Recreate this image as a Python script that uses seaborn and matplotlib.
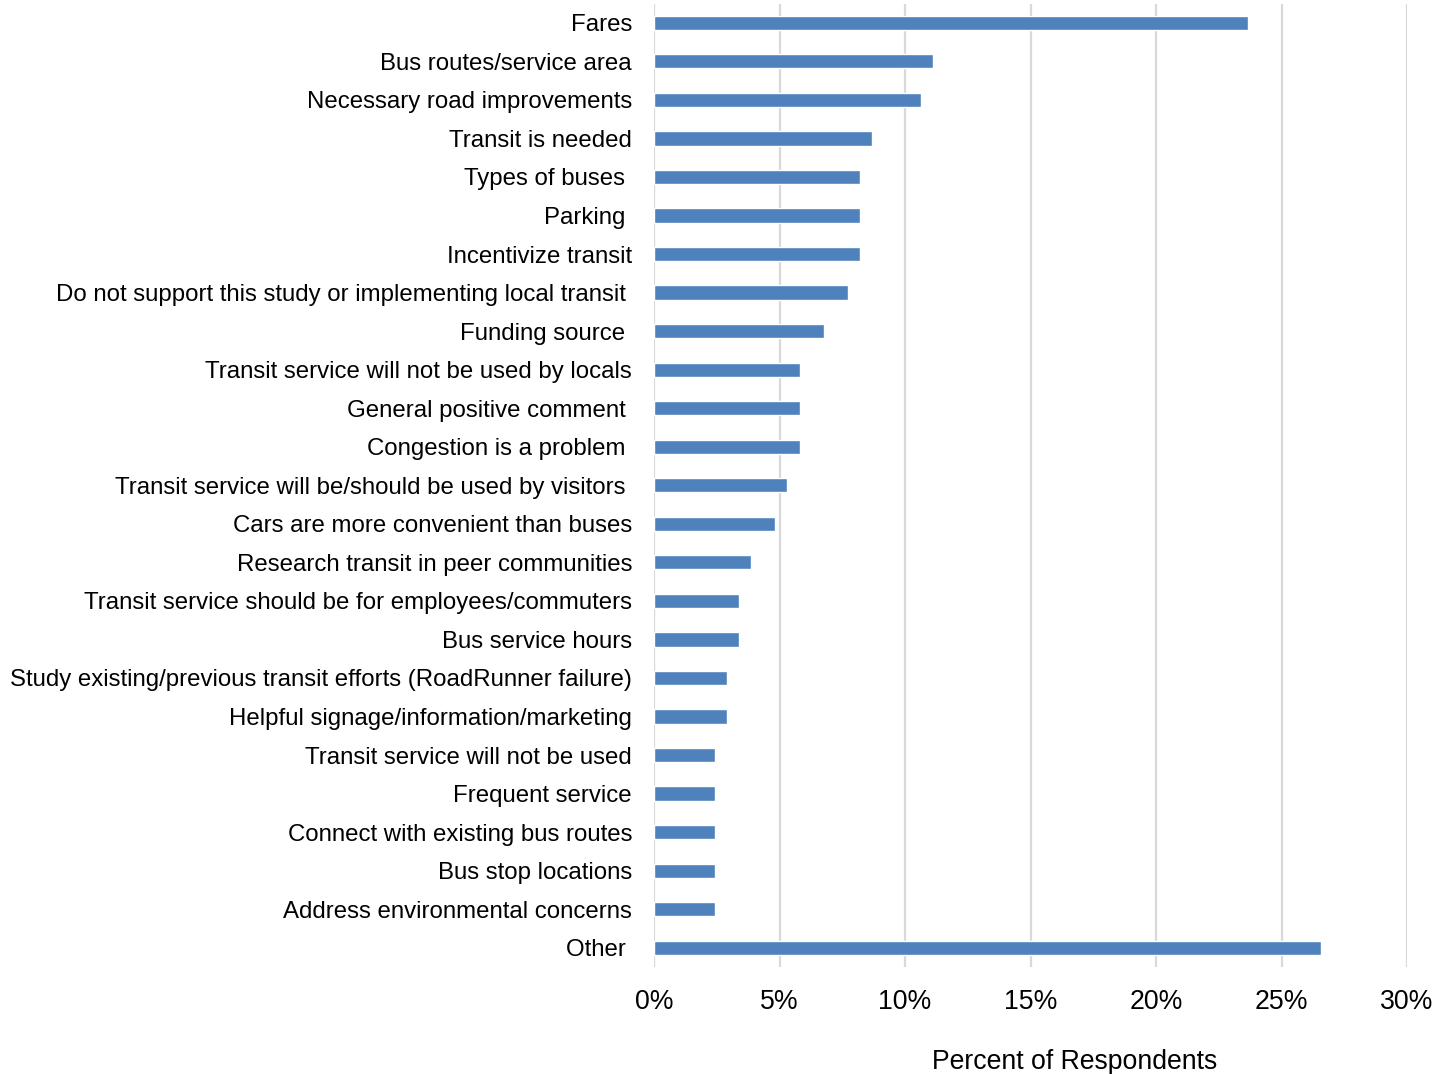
import matplotlib
matplotlib.use("Agg")
import matplotlib.pyplot as plt
import seaborn as sns
import pandas as pd
from matplotlib.ticker import FuncFormatter

# Comment themes, as share of respondents (%)
categories = [
    "Fares",
    "Bus routes/service area",
    "Necessary road improvements",
    "Transit is needed",
    "Types of buses ",
    "Parking ",
    "Incentivize transit",
    "Do not support this study or implementing local transit ",
    "Funding source ",
    "Transit service will not be used by locals",
    "General positive comment ",
    "Congestion is a problem ",
    "Transit service will be/should be used by visitors ",
    "Cars are more convenient than buses",
    "Research transit in peer communities",
    "Transit service should be for employees/commuters",
    "Bus service hours",
    "Study existing/previous transit efforts (RoadRunner failure)",
    "Helpful signage/information/marketing",
    "Transit service will not be used",
    "Frequent service",
    "Connect with existing bus routes",
    "Bus stop locations",
    "Address environmental concerns",
    "Other ",
]
percent = [
    23.67, 11.11, 10.63, 8.70, 8.21, 8.21, 8.21, 7.73, 6.76, 5.80,
    5.80, 5.80, 5.31, 4.83, 3.86, 3.38, 3.38, 2.90, 2.90, 2.42,
    2.42, 2.42, 2.42, 2.42, 26.57,
]
x_ticks = [0, 5, 10, 15, 20, 25, 30]

df = pd.DataFrame({"category": categories, "percent": percent})

sns.set_theme(style="white")
plt.rcParams["font.family"] = ["Liberation Sans", "DejaVu Sans"]

fig = plt.figure(figsize=(14.52, 10.74), dpi=100)
ax = fig.add_axes([654 / 1452, 1 - 967 / 1074, (1407 - 654) / 1452, 963.5 / 1074])

sns.barplot(data=df, x="percent", y="category", orient="h",
            color="#4f81bd", saturation=1, width=0.37, ax=ax, zorder=3)

ax.set_xlim(0, 30)
ax.set_xticks(x_ticks)
ax.xaxis.set_major_formatter(FuncFormatter(lambda v, _: f"{v:.0f}%"))
ax.grid(axis="x", color="#d9d9d9", linewidth=1.6, zorder=0)
ax.grid(axis="y", visible=False)
for s in ax.spines.values():
    s.set_visible(False)

ax.tick_params(axis="y", length=0, pad=15.8, labelsize=17.3, colors="black")
ax.tick_params(axis="x", length=0, pad=15.5, labelsize=19.2, colors="black")

ax.set_ylabel("")
ax.set_xlabel("Percent of Respondents", fontsize=19.2, color="black")
ax.xaxis.set_label_coords(0.559, -0.0985)
ax.xaxis.label.set_va("center")

fig.savefig("out.png", dpi=100)
